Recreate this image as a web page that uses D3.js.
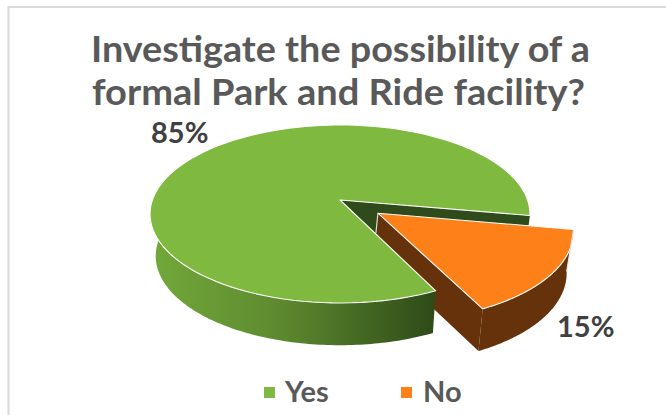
<!DOCTYPE html>
<html>
<head>
<meta charset="utf-8">
<script src="https://cdn.jsdelivr.net/npm/d3@7"></script>
<style>
  html, body { margin: 0; padding: 0; background: #fff; overflow: hidden; }
  svg { display: block; }
  text { font-family: "Lato", "Open Sans", sans-serif; font-weight: 700; }
</style>
</head>
<body>
<script>
// Survey result
const titleLines = ["Investigate the possibility of a", "formal Park and Ride facility?"];
const categories = ["Yes", "No"];
const percentages = [85, 15];
const topColors = ["#7fb93f", "#fd8118"];
const sideColors = ["#2f4a1b", "#65320b"];

const width = 666, height = 415;
const deg = Math.PI / 180;

const svg = d3.select("body").append("svg")
  .attr("width", width).attr("height", height);

// Panel border, open towards the right and the bottom
svg.append("path")
  .attr("d", `M8.5,${height}V7H${width}`)
  .attr("fill", "none").attr("stroke", "#d9d9d9").attr("stroke-width", 2);

// Pie layout: the slices run clockwise, "Yes" first
const slices = d3.pie().sort(null)
  .startAngle(154 * deg).endAngle((154 + 360) * deg)(percentages);

// Perspective projection of the unit disc; the lower plane is the extruded base
const tilt = -0.157;
const planes = {
  top:    { cx: 340, cy: 200, rx: 187.6, ry: 86.8 },
  bottom: { cx: 340, cy: 242, rx: 182, ry: 87 }
};
function project(px, py, plane) {
  const w = 1 + tilt * py;
  return [plane.cx + plane.rx * px / w, plane.cy + plane.ry * py / w];
}
const unit = a => [Math.sin(a), -Math.cos(a)];

// Exploded slice offset along its bisector
const explode = 0.247;
function shift(slice) {
  if (slice.index !== 1) return [0, 0];
  const [ux, uy] = unit((slice.startAngle + slice.endAngle) / 2);
  return [ux * explode, uy * explode];
}
function rimPoint(slice, a, plane) {
  const [sx, sy] = shift(slice), [ux, uy] = unit(a);
  return project(ux + sx, uy + sy, plane);
}
function apexPoint(slice, plane) {
  const [sx, sy] = shift(slice);
  return project(sx, sy, plane);
}
function rim(slice, a0, a1, plane) {
  const n = 120;
  return d3.range(n + 1).map(i => rimPoint(slice, a0 + (a1 - a0) * i / n, plane));
}
const line = d3.line();
const closed = pts => line(pts) + "Z";

const defs = svg.append("defs");
const grad = defs.append("linearGradient")
  .attr("id", "yesWall").attr("gradientUnits", "userSpaceOnUse")
  .attr("x1", 150).attr("x2", 436).attr("y1", 0).attr("y2", 0);
grad.append("stop").attr("offset", 0).attr("stop-color", "#72a93a");
grad.append("stop").attr("offset", 0.45).attr("stop-color", "#5d8a2f");
grad.append("stop").attr("offset", 1).attr("stop-color", "#2e4a18");

const [yes, no] = slices;
const pie3d = svg.append("g");

// Cut face of the large slice, seen through the gap
pie3d.append("path")
  .attr("d", closed([
    apexPoint(yes, planes.top),
    rimPoint(yes, yes.endAngle, planes.top),
    rimPoint(yes, yes.endAngle, planes.bottom),
    apexPoint(yes, planes.bottom)
  ]))
  .attr("fill", sideColors[0]);

// Walls of the exploded slice
pie3d.append("path")
  .attr("d", closed([
    ...rim(no, no.startAngle, no.endAngle, planes.top),
    ...rim(no, no.endAngle, no.startAngle, planes.bottom)
  ]))
  .attr("fill", sideColors[1]);
pie3d.append("path")
  .attr("d", closed([
    apexPoint(no, planes.top),
    rimPoint(no, no.endAngle, planes.top),
    rimPoint(no, no.endAngle, planes.bottom),
    apexPoint(no, planes.bottom)
  ]))
  .attr("fill", sideColors[1]);

// Outer wall of the large slice
pie3d.append("path")
  .attr("d", closed([
    ...rim(yes, yes.startAngle, 272 * deg, planes.top),
    ...rim(yes, 272 * deg, yes.startAngle, planes.bottom)
  ]))
  .attr("fill", "url(#yesWall)");

// Top faces with their thin white outline
slices.forEach((s, i) => {
  pie3d.append("path")
    .attr("d", closed([apexPoint(s, planes.top), ...rim(s, s.startAngle, s.endAngle, planes.top)]))
    .attr("fill", topColors[i])
    .attr("stroke", "#fff").attr("stroke-width", 1.1).attr("stroke-linejoin", "round");
});

// Highlight on the vertical edges of the exploded slice
[apexPoint(no, planes.top), rimPoint(no, no.startAngle, planes.top)].forEach((p, i) => {
  const q = i === 0
    ? apexPoint(no, planes.top).map((v, k) => k === 0 ? v - 2 : v + 20)
    : rimPoint(no, no.startAngle, planes.bottom);
  pie3d.append("path").attr("d", line([p, q]))
    .attr("stroke", "#e9e4df").attr("stroke-width", 1.1).attr("fill", "none");
});

// Title
const titleSpans = [[91, 590, 62], [92, 585, 105]];
svg.append("g").selectAll("text").data(titleLines).join("text")
  .attr("x", (d, i) => titleSpans[i][0])
  .attr("y", (d, i) => titleSpans[i][2])
  .attr("textLength", (d, i) => titleSpans[i][1] - titleSpans[i][0])
  .attr("lengthAdjust", "spacingAndGlyphs")
  .attr("font-size", 36).attr("fill", "#595959")
  .text(d => d);

// Percentage labels
const labelAnchors = [[151, 143], [557, 337]];
svg.append("g").selectAll("text").data(percentages).join("text")
  .attr("x", (d, i) => labelAnchors[i][0])
  .attr("y", (d, i) => labelAnchors[i][1])
  .attr("font-size", 29).attr("fill", "#404040")
  .text(d => d + "%");

// Legend
const legendAt = [[264, 285], [401, 423]];
const legend = svg.append("g").selectAll("g").data(categories).join("g");
legend.append("rect")
  .attr("x", (d, i) => legendAt[i][0]).attr("y", 387)
  .attr("width", 11).attr("height", 11)
  .attr("fill", (d, i) => topColors[i]);
legend.append("text")
  .attr("x", (d, i) => legendAt[i][1]).attr("y", 402)
  .attr("font-size", 29).attr("fill", "#595959")
  .text(d => d);
</script>
</body>
</html>
